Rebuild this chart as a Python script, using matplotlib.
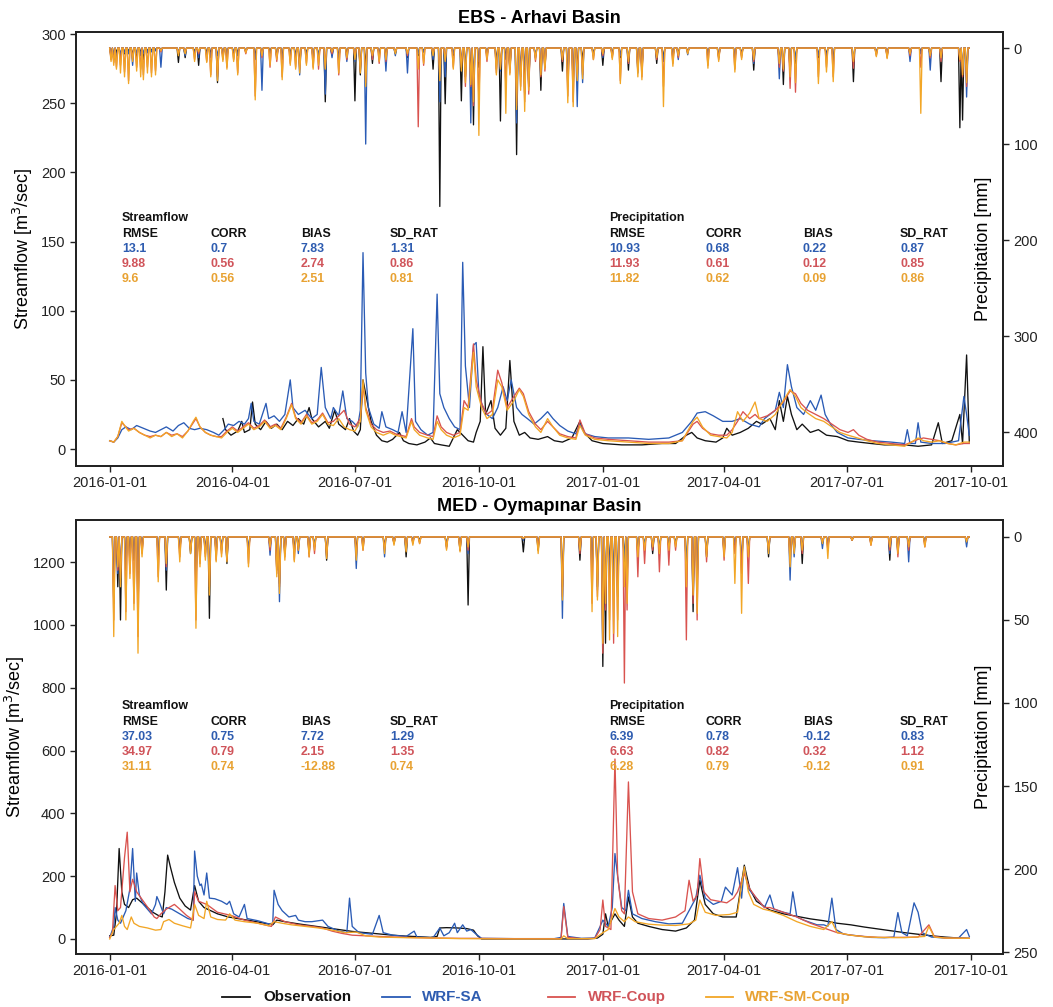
import numpy as np
import matplotlib
matplotlib.use("Agg")
import matplotlib.pyplot as plt
import matplotlib.dates as mdates
from matplotlib.lines import Line2D

plt.rcParams['font.family'] = ['Liberation Sans', 'DejaVu Sans']

START = np.datetime64('2016-01-01')
N_DAYS = 639
series_names = ["Observation", "WRF-SA", "WRF-Coup", "WRF-SM-Coup"]
series_colors = ["#111111", "#2A5BB5", "#D9534F", "#F2A626"]
text_colors = ["#111111", "#2E5CB0", "#D0545A", "#E8A232"]
date_ticks = ["2016-01-01", "2016-04-01", "2016-07-01", "2016-10-01",
              "2017-01-01", "2017-04-01", "2017-07-01", "2017-10-01"]

# ---------------- EBS - Arhavi : streamflow (day offset, m3/s) ----------------
q_top_obs = [(84,22),(86,14),(90,10),(95,13),(98,20),(100,12),(104,14),(106,34),(108,18),(112,14),
             (116,20),(120,15),(124,18),(128,14),(132,20),(136,17),(140,22),(144,18),(148,30),(150,22),
             (155,16),(160,20),(163,15),(167,28),(170,18),(175,14),(178,22),(181,13),(184,10),(186,14),
             (188,50),(190,40),(194,20),(198,10),(202,6),(206,5),(210,7),(215,12),(218,6),(222,4),
             (228,3),(234,5),(238,8),(241,4),(246,3),(252,2),(258,14),(262,10),(266,6),(270,5),
             (272,12),(275,20),(277,74),(279,25),(283,35),(286,15),(290,10),(294,15),(297,64),(300,20),
             (304,10),(308,12),(312,8),(318,7),(325,9),(330,6),(336,5),(343,8),(349,20),(352,12),
             (358,6),(366,4),(380,3),(395,3),(410,4),(420,4),(428,10),(432,12),(436,8),(442,6),
             (450,5),(455,8),(458,15),(462,10),(468,12),(474,15),(480,20),(484,18),(490,22),(494,14),
             (497,35),(500,20),(503,38),(506,25),(510,14),(514,18),(520,12),(526,14),(532,10),(540,9),
             (548,6),(556,5),(565,4),(575,3),(590,3),(600,2),(610,3),(615,19),(618,4),(625,6),
             (631,25),(633,4),(636,68),(638,5)]
q_top_sa = [(0,6),(3,5),(6,8),(9,14),(12,16),(16,14),(20,17),(25,15),(30,13),(34,12),(38,14),(42,16),
            (47,13),(51,17),(55,19),(59,15),(63,14),(67,15),(72,14),(77,12),(81,10),(85,14),(88,18),
            (92,17),(96,20),(100,18),(103,22),(105,33),(107,20),(111,18),(116,33),(118,22),(122,24),
            (126,20),(130,25),(134,50),(136,30),(140,25),(145,28),(150,22),(154,25),(157,59),(160,30),
            (164,22),(166,30),(170,24),(173,42),(176,22),(180,20),(184,16),(186,28),(188,142),(190,55),
            (192,30),(196,18),(200,15),(202,27),(205,16),(210,14),(214,12),(217,27),(220,12),(225,87),
            (227,20),(231,14),(236,10),(240,12),(243,112),(245,40),(248,30),(252,22),(256,16),(260,14),
            (262,135),(264,60),(267,30),(270,75),(272,77),(274,40),(277,30),(280,25),(284,22),(288,30),
            (292,45),(295,35),(298,50),(302,30),(306,25),(310,22),(315,18),(320,22),(325,27),(329,22),
            (334,17),(340,13),(346,11),(349,18),(353,11),(360,9),(370,8),(385,8),(400,7),(415,8),
            (425,12),(432,20),(436,26),(442,27),(448,24),(455,20),(462,20),(468,22),(475,18),(482,16),
            (486,22),(490,25),(494,28),(497,41),(500,30),(503,61),(506,45),(510,30),(515,25),(520,35),
            (524,28),(528,39),(531,25),(535,18),(540,12),(548,8),(556,7),(566,6),(580,5),(590,4),
            (592,14),(594,4),(598,4),(600,19),(602,5),(610,4),(620,4),(630,6),(634,38),(636,25),(638,10)]
q_top_coup = [(0,6),(3,5),(6,9),(9,19),(11,17),(14,14),(18,15),(22,12),(26,10),(30,9),(34,10),(38,9),
              (42,12),(46,10),(50,11),(54,9),(58,13),(62,19),(64,22),(67,16),(71,12),(75,10),(79,9),
              (83,9),(87,13),(91,16),(95,13),(99,16),(103,19),(107,15),(111,17),(115,21),(119,16),
              (123,18),(127,15),(131,23),(135,33),(138,23),(142,19),(146,25),(150,19),(154,21),(158,26),
              (162,19),(166,20),(170,24),(174,28),(178,18),(182,16),(186,22),(188,46),(190,30),(194,18),
              (198,14),(203,12),(208,13),(212,11),(216,10),(220,9),(224,22),(226,16),(230,12),(236,10),
              (240,9),(243,24),(246,16),(250,12),(255,10),(260,12),(263,35),(266,30),(270,76),(272,50),
              (276,33),(280,25),(284,28),(288,57),(291,48),(295,30),(300,38),(304,44),(307,40),(311,27),
              (316,18),(320,14),(325,20),(329,16),(334,11),(340,9),(346,8),(349,21),(353,11),(360,8),
              (370,7),(385,6),(400,5),(415,5),(425,6),(433,18),(436,20),(440,15),(446,11),(452,10),
              (458,10),(462,14),(466,20),(470,27),(475,22),(479,25),(482,22),(488,24),(494,28),(500,34),
              (505,42),(509,40),(513,33),(518,28),(524,25),(530,22),(536,18),(542,14),(548,12),(552,14),
              (556,10),(562,7),(570,5),(580,4),(590,3),(600,7),(604,8),(610,7),(616,6),(622,4),(628,3),
              (634,4),(638,4)]
q_top_sm = [(0,6),(3,5),(6,9),(9,20),(11,17),(14,13),(18,15),(22,12),(26,10),(30,8),(34,10),(38,9),
            (42,12),(46,9),(50,11),(54,8),(58,13),(62,20),(64,23),(67,16),(71,12),(75,10),(79,9),(83,8),
            (87,12),(91,15),(95,12),(99,15),(103,18),(107,14),(111,16),(115,20),(119,15),(123,17),
            (127,14),(131,22),(135,32),(138,22),(142,18),(146,24),(150,18),(154,20),(158,25),(162,18),
            (166,17),(170,22),(174,16),(178,14),(182,13),(186,20),(188,50),(190,28),(194,16),(198,12),
            (203,10),(208,12),(212,10),(216,9),(220,8),(224,20),(226,14),(230,10),(236,8),(240,7),
            (243,20),(246,14),(250,10),(255,8),(260,10),(263,30),(266,28),(270,70),(272,45),(276,30),
            (280,22),(284,25),(288,50),(291,45),(295,28),(300,35),(304,43),(307,38),(311,25),(316,16),
            (320,12),(325,22),(329,16),(334,10),(340,8),(346,7),(349,17),(353,10),(360,7),(370,6),
            (385,5),(400,4),(415,4),(425,6),(433,20),(436,23),(440,16),(446,10),(452,9),(458,8),
            (462,12),(466,27),(470,20),(475,26),(479,34),(482,22),(488,20),(494,25),(500,35),(505,43),
            (509,38),(513,30),(518,26),(524,22),(530,20),(536,16),(542,12),(548,10),(555,8),(562,6),
            (570,4),(580,3),(590,2),(600,8),(604,6),(610,5),(616,6),(622,4),(628,3),(634,5),(638,5)]

# ---------------- EBS - Arhavi : precipitation events (mm) ----------------
p_top_days = [1,3,5,8,11,14,17,20,23,25,28,31,34,38,51,56,63,66,72,75,80,84,87,92,95,101,108,113,119,
              124,128,134,138,141,146,151,155,160,165,170,176,182,186,190,195,200,205,212,221,229,233,
              240,245,249,255,261,264,268,270,274,280,287,290,294,297,302,305,308,311,316,320,323,336,
              340,344,347,351,359,366,373,379,385,392,395,406,411,418,422,429,444,452,464,469,478,497,
              500,505,509,526,532,537,552,569,577,594,602,609,617,631,633,636]
p_top_obs = [8,12,5,10,6,4,8,10,5,12,4,3,2,2,15,10,4,18,5,6,36,8,10,6,6,4,8,6,4,8,10,6,8,18,6,12,10,
             56,8,10,6,55,28,18,16,6,8,6,10,8,4,22,165,58,8,55,30,25,80,20,8,14,76,10,22,111,30,48,40,
             10,44,20,24,30,40,20,12,6,18,6,10,23,20,24,16,12,10,6,4,8,10,12,6,23,14,38,24,16,10,8,12,
             35,6,8,6,4,8,35,83,75,30]
p_top_sa = [10,6,12,8,5,6,18,6,8,6,5,4,3,20,4,8,6,10,8,10,8,6,8,4,8,3,12,44,6,10,12,8,10,28,8,10,8,
            48,10,12,14,14,20,100,10,8,24,8,26,6,4,12,56,30,6,14,20,78,30,14,6,22,24,12,20,78,28,20,36,
            8,20,14,10,40,30,61,36,8,10,8,8,12,26,20,10,14,8,12,7,6,8,10,8,16,32,20,22,12,8,10,14,12,4,
            6,14,6,23,12,10,20,51]
p_top_coup = [12,15,20,18,25,34,12,20,22,28,20,26,24,4,6,5,12,6,14,28,30,12,20,12,26,6,50,10,20,14,
              30,16,20,22,16,20,22,20,6,28,12,10,24,36,12,16,14,4,8,82,18,6,30,12,20,20,40,40,60,56,14,
              26,20,40,26,60,40,56,48,14,30,24,14,50,56,30,28,12,8,10,34,16,24,30,12,40,16,10,5,18,12,
              22,10,14,20,24,42,46,30,20,30,21,8,10,8,20,10,14,14,30,40]
p_top_sm = [14,18,22,26,30,37,14,24,30,33,26,30,28,3,8,6,14,4,15,30,34,14,22,14,28,5,54,8,18,12,33,
            18,22,26,18,22,18,22,4,26,10,12,26,40,8,14,12,6,6,22,16,8,34,14,22,24,36,38,56,91,12,28,22,
            68,28,64,44,66,44,12,28,22,12,57,61,34,32,12,6,12,37,14,30,33,10,61,19,8,6,21,14,25,12,12,
            16,22,30,36,37,25,35,14,9,11,6,68,8,10,12,28,36]

# ---------------- MED - Oymapinar : streamflow (day offset, m3/s) ----------------
q_bot_obs = [(0,10),(3,12),(5,80),(7,288),(9,150),(11,110),(14,100),(17,125),(20,130),(24,115),(28,100),
             (32,85),(36,75),(39,70),(41,150),(43,267),(45,230),(48,180),(52,130),(56,105),(60,92),
             (63,170),(66,120),(70,100),(75,90),(80,80),(88,70),(95,65),(105,58),(115,50),(121,45),
             (124,60),(130,55),(140,48),(150,42),(160,36),(170,30),(180,24),(190,20),(200,16),(210,12),
             (220,9),(230,7),(238,5),(243,8),(245,35),(250,36),(258,35),(265,33),(270,28),(273,10),
             (276,0),(300,0),(330,0),(355,0),(362,3),(366,15),(368,80),(370,40),(375,80),(378,60),
             (382,40),(385,134),(388,70),(392,50),(400,40),(410,30),(420,25),(428,35),(434,60),
             (438,187),(442,110),(448,80),(455,70),(465,70),(471,235),(475,160),(480,120),(490,92),
             (500,80),(510,72),(520,64),(530,58),(540,50),(550,45),(560,38),(570,32),(580,26),(590,20),
             (600,15),(610,10),(620,6),(630,3),(638,2)]
q_bot_sa = [(0,5),(3,40),(4,100),(6,60),(8,50),(10,70),(12,90),(15,160),(17,288),(19,120),(20,210),
            (22,140),(25,110),(28,95),(31,80),(34,110),(35,135),(37,115),(40,80),(42,100),(46,95),
            (52,80),(58,65),(62,60),(63,280),(65,200),(67,170),(68,175),(70,140),(72,210),(74,130),
            (78,128),(83,120),(87,110),(89,120),(92,80),(96,70),(100,110),(102,65),(110,58),(118,48),
            (121,50),(122,155),(125,110),(128,90),(133,70),(138,75),(140,60),(145,55),(150,55),(158,60),
            (162,40),(170,25),(176,20),(178,130),(180,40),(185,20),(195,15),(200,75),(203,20),(210,12),
            (220,8),(226,25),(228,6),(240,4),(245,35),(248,10),(252,20),(256,50),(258,20),(262,45),
            (265,25),(268,30),(272,15),(276,2),(300,1),(330,1),(335,5),(337,113),(340,8),(350,2),
            (360,3),(364,40),(366,60),(370,40),(373,100),(375,272),(377,200),(380,100),(383,90),
            (385,155),(388,80),(395,65),(405,55),(415,48),(425,50),(430,90),(435,130),(438,203),
            (442,130),(448,110),(454,120),(457,165),(462,140),(466,227),(469,130),(471,230),(474,160),
            (480,130),(486,100),(490,140),(493,95),(500,85),(505,80),(507,150),(510,70),(515,60),
            (525,45),(530,45),(533,40),(536,130),(539,30),(545,15),(555,10),(565,5),(575,4),(582,6),
            (585,84),(588,20),(592,10),(597,115),(600,85),(603,20),(610,6),(620,3),(630,3),(636,30),
            (638,8)]
q_bot_coup = [(0,5),(2,20),(4,170),(6,90),(8,100),(11,260),(13,340),(15,150),(17,190),(20,150),(25,120),
              (30,90),(33,70),(35,65),(38,80),(42,95),(48,110),(52,95),(57,75),(62,60),(63,150),(66,120),
              (72,110),(80,85),(90,75),(100,60),(110,50),(120,40),(123,70),(130,55),(140,45),(150,40),
              (158,35),(165,25),(172,18),(180,12),(190,10),(200,8),(220,5),(240,3),(260,2),(270,2),
              (300,1),(335,1),(337,103),(340,5),(350,1),(360,2),(364,30),(366,124),(368,40),(372,30),
              (375,573),(377,200),(380,90),(382,80),(385,500),(388,150),(392,80),(400,65),(410,60),
              (415,65),(420,70),(427,90),(430,187),(433,120),(436,140),(438,256),(441,150),(446,125),
              (452,120),(458,115),(463,130),(466,150),(471,208),(475,160),(480,130),(486,100),(490,100),
              (500,85),(510,70),(520,50),(530,35),(540,20),(550,12),(560,8),(570,5),(585,5),(600,6),
              (608,45),(612,8),(620,3),(638,2)]
q_bot_sm = [(0,0),(3,30),(5,40),(7,50),(9,75),(11,40),(13,30),(16,70),(18,50),(22,40),(28,35),(34,28),
            (38,30),(40,55),(44,62),(48,50),(54,42),(60,35),(63,110),(66,75),(70,65),(72,120),(75,70),
            (80,62),(86,60),(89,80),(93,60),(100,55),(110,50),(118,42),(122,55),(128,50),(135,45),
            (145,40),(155,35),(165,28),(175,20),(183,22),(190,10),(200,6),(220,4),(240,3),(260,1),
            (300,0),(335,0),(337,10),(340,1),(360,1),(366,20),(370,30),(375,97),(378,70),(382,55),
            (385,70),(390,55),(400,47),(410,44),(420,43),(430,48),(435,60),(438,124),(442,85),(450,75),
            (460,78),(466,85),(471,230),(474,150),(478,110),(485,95),(490,90),(500,75),(510,55),(520,40),
            (530,30),(536,55),(540,20),(550,12),(560,7),(570,5),(590,4),(605,8),(608,40),(612,6),
            (620,3),(638,2)]

# ---------------- MED - Oymapinar : precipitation events (mm) ----------------
p_bot_days = [3,6,8,12,15,18,21,24,36,42,52,60,64,67,71,74,79,83,87,103,119,124,126,130,137,140,148,
              152,161,183,188,204,211,220,225,230,250,260,266,307,318,336,349,358,362,366,368,371,374,
              377,382,384,392,397,403,408,415,420,428,433,436,443,456,464,469,474,489,505,508,514,529,
              533,551,565,579,585,593,605,636]
p_bot_obs = [40,30,50,20,10,14,45,6,12,32,8,10,30,12,8,49,10,8,16,10,6,20,28,10,8,6,10,6,14,8,4,6,4,
             12,3,2,6,8,41,9,8,30,14,20,30,78,64,20,30,36,16,24,10,6,10,8,6,4,20,45,30,12,10,6,20,10,
             12,10,8,16,4,6,2,4,14,8,6,4,3]
p_bot_sa = [30,22,20,18,15,12,20,8,10,20,6,6,24,10,10,20,8,6,12,8,11,16,39,8,10,10,8,5,10,19,6,12,3,8,
            2,3,4,5,10,2,4,49,6,24,32,40,30,25,28,34,14,20,8,4,6,8,6,4,18,30,24,10,8,4,18,8,10,26,12,6,
            7,5,1,3,10,10,15,3,6]
p_bot_coup = [50,20,25,45,22,40,60,10,24,18,12,8,50,16,12,30,14,10,14,16,8,22,30,12,14,8,12,10,12,12,
              8,8,4,8,4,4,7,8,8,1,6,36,10,40,36,70,44,50,64,50,88,44,24,16,8,21,17,8,62,40,50,15,14,10,
              22,28,8,16,8,10,3,8,2,5,8,12,8,6,2]
p_bot_sm = [60,18,30,50,25,44,70,12,27,16,15,10,55,18,14,35,15,12,15,18,6,24,34,14,15,8,12,8,13,14,8,
            10,5,9,5,4,8,9,6,1,10,38,8,45,38,64,40,62,58,60,30,40,12,8,6,10,8,6,30,35,46,12,12,28,46,
            12,10,18,10,8,4,13,2,5,6,10,6,6,3]

stats_top = {
    "Streamflow": [["13.1", "0.7", "7.83", "1.31"],
                   ["9.88", "0.56", "2.74", "0.86"],
                   ["9.6", "0.56", "2.51", "0.81"]],
    "Precipitation": [["10.93", "0.68", "0.22", "0.87"],
                      ["11.93", "0.61", "0.12", "0.85"],
                      ["11.82", "0.62", "0.09", "0.86"]],
}
stats_bot = {
    "Streamflow": [["37.03", "0.75", "7.72", "1.29"],
                   ["34.97", "0.79", "2.15", "1.35"],
                   ["31.11", "0.74", "-12.88", "0.74"]],
    "Precipitation": [["6.39", "0.78", "-0.12", "0.83"],
                      ["6.63", "0.82", "0.32", "1.12"],
                      ["6.28", "0.79", "-0.12", "0.91"]],
}
stat_headers = ["RMSE", "CORR", "BIAS", "SD_RAT"]


def to_dates(days):
    return START + np.asarray(days, dtype='int64').astype('timedelta64[D]')


def daily_precip(days, vals):
    arr = np.zeros(N_DAYS)
    arr[np.asarray(days)] = vals
    return arr


def draw_panel(fig, rect, title, q_series, p_days, p_series, ylim_q, yticks_q,
               ylim_p, yticks_p, stats):
    ax = fig.add_axes(rect)
    ax2 = ax.twinx()
    all_dates = to_dates(np.arange(N_DAYS))
    for vals, col in zip(p_series, series_colors):
        ax2.plot(all_dates, daily_precip(p_days, vals), color=col, lw=0.95, zorder=2)
    for pts, col in zip(q_series, series_colors):
        d = [p[0] for p in pts]
        v = [p[1] for p in pts]
        ax.plot(to_dates(d), v, color=col, lw=0.95, zorder=2)
    ax.set_ylim(*ylim_q)
    ax.set_yticks(yticks_q)
    ax2.set_ylim(*ylim_p)
    ax2.set_yticks(yticks_p)
    ax.set_xlim(np.datetime64('2015-12-07'), np.datetime64('2017-10-25'))
    ax.set_xticks([np.datetime64(t) for t in date_ticks])
    ax.xaxis.set_major_formatter(mdates.DateFormatter('%Y-%m-%d'))
    for a in (ax, ax2):
        a.tick_params(direction='out', length=4, width=1, labelsize=10.5, colors='#222222')
        for s in a.spines.values():
            s.set_linewidth(1.3)
            s.set_color('#222222')
    ax.set_ylabel("Streamflow [m$^3$/sec]", fontsize=13, labelpad=4)
    ax2.set_ylabel("Precipitation [mm]", fontsize=13)
    ax2.yaxis.label.set_va('center')
    ax2.yaxis.set_label_coords(0.979, 0.5)
    ax.set_title(title, fontsize=13, fontweight='bold', pad=6.6)

    col_x = {"Streamflow": [0.0496, 0.1456, 0.2427, 0.3387],
             "Precipitation": [0.575, 0.6796, 0.784, 0.889]}
    rows_y = [0.571, 0.535, 0.500, 0.465, 0.431]
    fs = 8.9
    for key in ("Streamflow", "Precipitation"):
        xs = col_x[key]
        ax.text(xs[0], rows_y[0], key, transform=ax.transAxes, fontsize=fs,
                fontweight='bold', va='center', ha='left', color='#111111')
        for j, h in enumerate(stat_headers):
            ax.text(xs[j], rows_y[1], h, transform=ax.transAxes, fontsize=fs,
                    fontweight='bold', va='center', ha='left', color='#111111')
        for i, row in enumerate(stats[key]):
            for j, val in enumerate(row):
                ax.text(xs[j], rows_y[2 + i], val, transform=ax.transAxes, fontsize=fs,
                        fontweight='bold', va='center', ha='left', color=text_colors[i + 1])
    return ax


W, H = 1053, 1007
fig = plt.figure(figsize=(W / 100, H / 100), dpi=100)

draw_panel(fig, [0.0722, 0.5372, 0.8803, 0.4310], "EBS - Arhavi Basin",
           [q_top_obs, q_top_sa, q_top_coup, q_top_sm], p_top_days,
           [p_top_obs, p_top_sa, p_top_coup, p_top_sm],
           (-12.3, 301.5), [0, 50, 100, 150, 200, 250, 300],
           (435.4, -16.7), [0, 100, 200, 300, 400], stats_top)

draw_panel(fig, [0.0722, 0.0526, 0.8803, 0.4310], "MED - Oymapınar Basin",
           [q_bot_obs, q_bot_sa, q_bot_coup, q_bot_sm], p_bot_days,
           [p_bot_obs, p_bot_sa, p_bot_coup, p_bot_sm],
           (-48, 1334), [0, 200, 400, 600, 800, 1000, 1200],
           (251.2, -10.2), [0, 50, 100, 150, 200, 250], stats_bot)

# legend (laid out like the reference's bottom key)
leg_line_x = [(222, 250), (382, 410), (548, 575), (706, 733)]
leg_text_x = [263, 422, 588, 745]
leg_y = 1 - 997 / H
for (x0, x1), tx, name, lc, tc in zip(leg_line_x, leg_text_x, series_names,
                                      series_colors, text_colors):
    fig.add_artist(Line2D([x0 / W, x1 / W], [leg_y, leg_y], color=lc, lw=1.3,
                          transform=fig.transFigure))
    fig.text(tx / W, leg_y, name, color=tc, fontsize=10.9, fontweight='bold',
             va='center', ha='left')

fig.savefig("out.png", dpi=100)
